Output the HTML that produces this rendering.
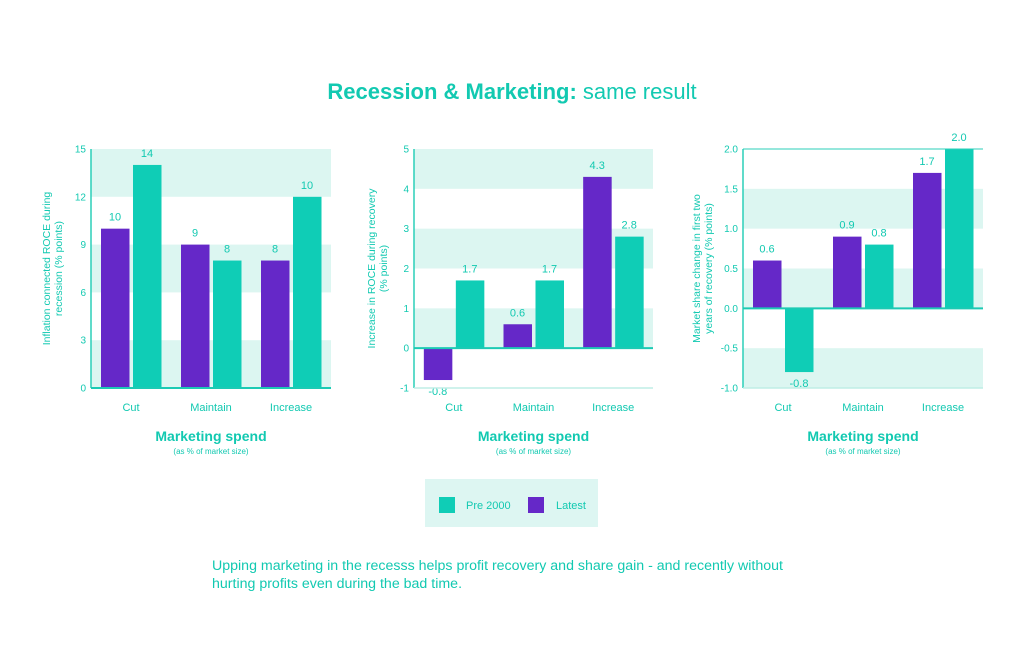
<!DOCTYPE html>
<html><head><meta charset="utf-8"><style>
body{margin:0;width:1024px;height:652px;background:#fff;overflow:hidden;font-family:"Liberation Sans",sans-serif;}
svg text{font-family:"Liberation Sans",sans-serif;}
</style></head><body>
<svg id="s" width="1024" height="652">
<text x="512" y="99" text-anchor="middle" font-size="22" fill="#12c9b1"><tspan font-weight="bold">Recession &amp; Marketing:</tspan> same result</text>
<rect x="425" y="479" width="173" height="48" fill="#ddf6f2"/>
<rect x="439" y="497" width="16" height="16" fill="#0fcdb6"/>
<text x="466" y="509" font-size="11" fill="#12c9b1">Pre 2000</text>
<rect x="528" y="497" width="16" height="16" fill="#6528c8"/>
<text x="556" y="509" font-size="11" fill="#12c9b1">Latest</text>
<text x="212" y="570" font-size="14.2" fill="#12c9b1">Upping marketing in the recesss helps profit recovery and share gain - and recently without</text>
<text x="212" y="588" font-size="14.2" fill="#12c9b1">hurting profits even during the bad time.</text>
</svg>
<script>
const categories=["Cut","Maintain","Increase"];
const c1Latest=[10,9,8];
const c1Pre=[14,8,12];
const c1LatestLabels=["10","9","8"];
const c1PreLabels=["14","8","10"];
const c1Ticks=[0,3,6,9,12,15];
const c2Latest=[-0.8,0.6,4.3];
const c2Pre=[1.7,1.7,2.8];
const c2Ticks=[-1,0,1,2,3,4,5];
const c3Latest=[0.6,0.9,1.7];
const c3Pre=[-0.8,0.8,2.0];
const c3Ticks=[-1.0,-0.5,0.0,0.5,1.0,1.5,2.0];
const NS="http://www.w3.org/2000/svg";
const svg=document.getElementById('s');
function mk(tag,attrs,parent){const e=document.createElementNS(NS,tag);for(const k in attrs)e.setAttribute(k,attrs[k]);(parent||svg).appendChild(e);return e;}
function chart(o){
  const g=mk('g',{});
  
  
  const min=o.ticks[0],max=o.ticks[o.ticks.length-1];
  const y=v=>o.top+(max-v)/(max-min)*(o.bottom-o.top);
  const bw=(o.right-o.left)/categories.length;
  for(let i=0;i<o.ticks.length-1;i++){
    if(i%2!==o.parity)continue;
    const r=mk('rect',{x:o.left,y:y(o.ticks[i+1]),width:o.right-o.left,height:y(o.ticks[i])-y(o.ticks[i+1]),fill:'#dcf6f1'},g);
    
    
  }
  o.ticks.forEach(t=>{
    const tx=mk('text',{x:o.left-5,y:y(t)+3.5,'text-anchor':'end','font-size':10,fill:'#12c9b1'},g);
    tx.textContent=o.fmt(t);
    
    
  });
  const series=[[o.latest,'#6528c8',o.latestLabels||o.latest.map(o.fmtv)],[o.pre,'#0fcdb6',o.preLabels||o.pre.map(o.fmtv)]];
  categories.forEach((c,i)=>{
    const cx=o.left+bw*(i+0.5);
    series.forEach((s,j)=>{
      const v=s[0][i];
      const x=cx-30+j*32;
      const y0=y(0),y1=y(v);
      const r=mk('rect',{x:x,y:Math.min(y0,y1),width:28.5,height:Math.abs(y1-y0),fill:s[1]},g);
      
      
      const lt=mk('text',{x:x+14,y:v>=0?y1-8:y1+15,'text-anchor':'middle','font-size':11,fill:'#12c9b1'},g);
      lt.textContent=s[2][i];
      
      
    });
    const ct=mk('text',{x:cx,y:411,'text-anchor':'middle','font-size':11,fill:'#12c9b1'},g);
    ct.textContent=c;
    
    
  });
  const ax=mk('line',{x1:o.left,x2:o.left,y1:o.top,y2:o.bottom,stroke:'#2bcfb9','stroke-width':1.5},g);
  
  
  const zl=mk('line',{x1:o.left,x2:o.right,y1:y(0),y2:y(0),stroke:'#1ccab4','stroke-width':2},g);
  
  
  if(min<0){const bl=mk('line',{x1:o.left,x2:o.right,y1:o.bottom,y2:o.bottom,stroke:'#bfeee6','stroke-width':1.5},g);
    
    }
  const midx=(o.left+o.right)/2;
  const xt=mk('text',{x:midx,y:441,'text-anchor':'middle','font-size':14,'font-weight':'bold',fill:'#12c9b1'},g);
  xt.textContent='Marketing spend';
  
  
  const xs=mk('text',{x:midx,y:454,'text-anchor':'middle','font-size':8,fill:'#12c9b1'},g);
  xs.textContent='(as % of market size)';
  
  
  const ymid=(o.top+o.bottom)/2;
  const yt=mk('text',{x:o.ytx,y:ymid,'text-anchor':'middle','font-size':10.5,fill:'#12c9b1',transform:`rotate(-90 ${o.ytx} ${ymid})`},g);
  o.ytitle.forEach((l,k)=>{const ts=mk('tspan',{x:o.ytx,dy:k?12:0},yt);ts.textContent=l;});
  
  
}
chart({name:'chart-recession-roce',parity:0,left:91,right:331,top:149,bottom:388,ticks:c1Ticks,latest:c1Latest,pre:c1Pre,latestLabels:c1LatestLabels,preLabels:c1PreLabels,fmt:t=>String(t),fmtv:v=>String(v),ytx:50,ytitle:['Inflation connected ROCE during','recession (% points)']});
chart({name:'chart-recovery-roce',parity:1,left:414,right:653,top:149,bottom:388,ticks:c2Ticks,latest:c2Latest,pre:c2Pre,fmt:t=>String(t),fmtv:v=>v.toFixed(1),ytx:375,ytitle:['Increase in ROCE during recovery','(% points)']});
chart({name:'chart-market-share',parity:0,left:743,right:983,top:149,bottom:388,ticks:c3Ticks,latest:c3Latest,pre:c3Pre,fmt:t=>t.toFixed(1),fmtv:v=>v.toFixed(1),ytx:700,ytitle:['Market share change in first two','years of recovery (% points)']});
const tl=mk('line',{x1:743,x2:983,y1:149,y2:149,stroke:'#2bcfb9','stroke-width':1});


</script>
</body></html>
